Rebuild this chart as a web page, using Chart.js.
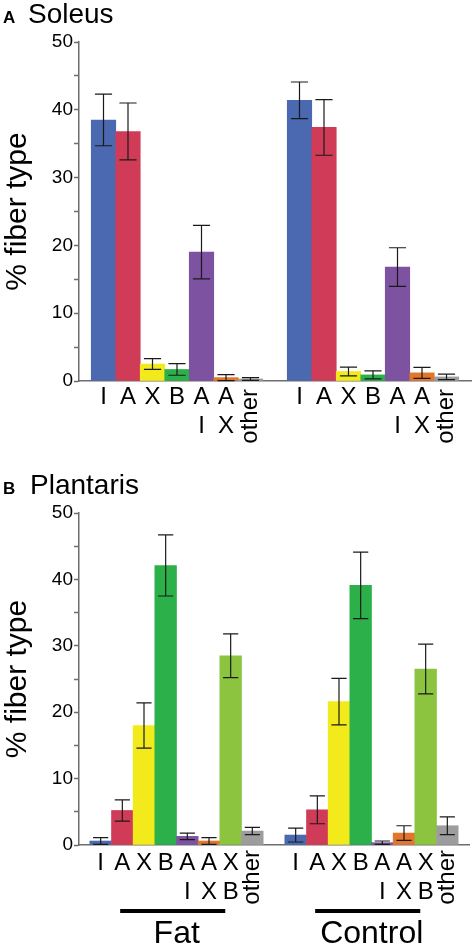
<!DOCTYPE html>
<html>
<head>
<meta charset="utf-8">
<script src="https://cdn.jsdelivr.net/npm/chart.js@4.4.0/dist/chart.umd.min.js"></script>
<style>
  body { margin: 0; background: #fff; }
  #page { position: relative; width: 475px; height: 947px; overflow: hidden; font-family: "Liberation Sans", Arial, sans-serif; }
  .box { position: absolute; left: 0; }
  .titulo { position: absolute; left: 3px; font-size: 28px; line-height: 28px; color: #000; white-space: nowrap; z-index: 2; }
  .titulo b { display: inline-block; font-size: 17px; }
</style>
</head>
<body>
<div id="page">
  <div class="box" style="top:0"><canvas id="soleus" width="475" height="465"></canvas></div>
  <div class="box" style="top:465px"><canvas id="plantaris" width="475" height="482"></canvas></div>
  <div class="titulo" style="top:0"><b style="width:25px">A</b>Soleus</div>
  <div class="titulo" style="top:471px"><b style="width:27px">B</b>Plantaris</div>
</div>
<script>
// Colores de cada tipo de fibra
const azul = '#4a69b1', rojo = '#d03c57', amarillo = '#f3ea1c', verde = '#2bb04a';
const morado = '#7c52a1', naranja = '#e2762c', gris = '#9d9d9d', verdeClaro = '#8cc43f';

// Datos del soleo
const soleusLabels = ['I', 'A', 'X', 'B', ['A', 'I'], ['A', 'X'], 'other'];
const soleusFat = [38.5, 36.8, 2.5, 1.7, 19.0, 0.5, 0.3];
const soleusFatErr = [3.8, 4.2, 0.8, 0.85, 3.95, 0.45, 0.2];
const soleusControl = [41.4, 37.4, 1.4, 0.9, 16.8, 1.2, 0.6];
const soleusControlErr = [2.7, 4.1, 0.65, 0.6, 2.85, 0.8, 0.4];
const soleusColors = [azul, rojo, amarillo, verde, morado, naranja, gris];

// Datos del plantar
const plantarisLabels = ['I', 'A', 'X', 'B', ['A', 'I'], ['A', 'X'], ['X', 'B'], 'other'];
const plantarisFat = [0.6, 5.2, 18.0, 42.1, 1.3, 0.6, 28.5, 2.1];
const plantarisFatErr = [0.5, 1.6, 3.4, 4.6, 0.5, 0.5, 3.3, 0.55];
const plantarisControl = [1.5, 5.3, 21.6, 39.1, 0.35, 1.8, 26.5, 2.9];
const plantarisControlErr = [1.05, 2.1, 3.5, 5.0, 0.25, 1.1, 3.75, 1.35];
const plantarisColors = [azul, rojo, amarillo, verde, morado, naranja, verdeClaro, gris];

const groupNames = ['Fat', 'Control'];
const yTicks = [0, 10, 20, 30, 40, 50];

const fuente = '"Liberation Sans", Arial, sans-serif';
Chart.defaults.font.family = fuente;
Chart.defaults.color = '#000';

// Barras de error dibujadas con la escala y
const erroresPlugin = {
    id: 'errores',
    afterDatasetsDraw(chart) {
        const { ctx, scales: { y } } = chart;
        ctx.save();
        ctx.strokeStyle = '#1a1a1a';
        ctx.lineWidth = 1.2;
        chart.data.datasets.forEach((ds, di) => {
            chart.getDatasetMeta(di).data.forEach((bar, i) => {
                const v = ds.data[i].y, e = ds.errors[i];
                const arriba = y.getPixelForValue(v + e);
                const abajo = y.getPixelForValue(Math.max(v - e, 0));
                const mitad = bar.width * 0.35;
                ctx.beginPath();
                ctx.moveTo(bar.x, arriba); ctx.lineTo(bar.x, abajo);
                ctx.moveTo(bar.x - mitad, arriba); ctx.lineTo(bar.x + mitad, arriba);
                ctx.moveTo(bar.x - mitad, abajo); ctx.lineTo(bar.x + mitad, abajo);
                ctx.stroke();
            });
        });
        ctx.restore();
    }
};

// Etiqueta "other" vertical y los grupos Fat / Control
const extrasPlugin = {
    id: 'extras',
    afterDraw(chart, args, opts) {
        const { ctx, scales: { x } } = chart;
        const ejeY = x.top;
        ctx.save();
        ctx.fillStyle = '#000';
        ctx.font = '24px ' + fuente;
        opts.rotadas.forEach(p => {
            ctx.save();
            ctx.translate(x.getPixelForValue(p.pos), ejeY + opts.gapRotada);
            ctx.rotate(-Math.PI / 2);
            ctx.textAlign = 'right';
            ctx.textBaseline = 'middle';
            ctx.fillText(p.texto, 0, 0);
            ctx.restore();
        });
        (opts.grupos || []).forEach(g => {
            const x0 = x.getPixelForValue(g.desde), x1 = x.getPixelForValue(g.hasta);
            ctx.fillRect(x0, ejeY + 64, x1 - x0, 4);
            ctx.font = '32px ' + fuente;
            ctx.textAlign = 'center';
            ctx.textBaseline = 'alphabetic';
            ctx.fillText(g.nombre, (x0 + x1) / 2 + 4, ejeY + 98);
        });
        ctx.restore();
    }
};

function crearGrafica(id, labels, valores, errores, colores, caja) {
    const porGrupo = labels.length + 1;
    const posiciones = [];
    const rotadas = [];
    const datasets = valores.map((serie, g) => {
        const xs = serie.map((v, i) => g * porGrupo + i + 1);
        posiciones.push(...xs);
        labels.forEach((l, i) => { if (l === 'other') rotadas.push({ pos: xs[i], texto: l }); });
        return {
            label: groupNames[g],
            data: serie.map((v, i) => ({ x: xs[i], y: v })),
            errors: errores[g],
            backgroundColor: colores,
            borderWidth: 0,
            grouped: false,
            barPercentage: 1,
            categoryPercentage: 1
        };
    });
    const etiqueta = v => {
        const l = labels[(v - 1) % porGrupo];
        return l === 'other' ? '' : l;
    };
    const grupos = caja.grupos ? caja.grupos.map((r, g) => ({
        nombre: groupNames[g], desde: g * porGrupo + r[0], hasta: g * porGrupo + r[1]
    })) : [];

    return new Chart(document.getElementById(id), {
        type: 'bar',
        data: { datasets },
        options: {
            responsive: false,
            animation: false,
            layout: { padding: { top: caja.top, right: caja.right, left: 0, bottom: 0 } },
            plugins: {
                legend: { display: false },
                tooltip: { enabled: false },
                extras: { rotadas, grupos, gapRotada: caja.gapRotada }
            },
            scales: {
                x: {
                    type: 'linear',
                    min: 0,
                    max: porGrupo * valores.length,
                    offset: false,
                    grid: { display: true, drawOnChartArea: false, drawTicks: false, offset: false },
                    border: { display: true, color: '#6d6d6d', width: 1.5 },
                    afterBuildTicks: s => { s.ticks = posiciones.map(v => ({ value: v })); },
                    afterFit: s => { s.height = caja.xHeight; },
                    ticks: {
                        autoSkip: false, maxRotation: 0, minRotation: 0,
                        padding: caja.tickPad,
                        font: { size: 24, lineHeight: 1.2 },
                        callback: v => etiqueta(v)
                    }
                },
                y: {
                    min: 0,
                    max: 50,
                    grid: { display: true, drawOnChartArea: false, tickLength: 5, color: '#6d6d6d', tickWidth: 1.5 },
                    border: { color: '#6d6d6d', width: 1.5 },
                    ticks: {
                        stepSize: 5, padding: 1,
                        font: { size: 19 },
                        callback: v => yTicks.includes(v) ? v : ''
                    },
                    title: { display: true, text: '% fiber type', font: { size: 30 }, padding: 0 },
                    afterFit: s => { s.width = 79; }
                }
            }
        },
        plugins: [erroresPlugin, extrasPlugin]
    });
}

crearGrafica('soleus', soleusLabels, [soleusFat, soleusControl], [soleusFatErr, soleusControlErr],
    soleusColors, { top: 42, right: 4, xHeight: 84, tickPad: 2, gapRotada: 8 });
crearGrafica('plantaris', plantarisLabels, [plantarisFat, plantarisControl], [plantarisFatErr, plantarisControlErr],
    plantarisColors, { top: 48, right: 6, xHeight: 102, tickPad: 4, gapRotada: 5, grupos: [[1.9, 6.75], [1.9, 6.75]] });
</script>
</body>
</html>
